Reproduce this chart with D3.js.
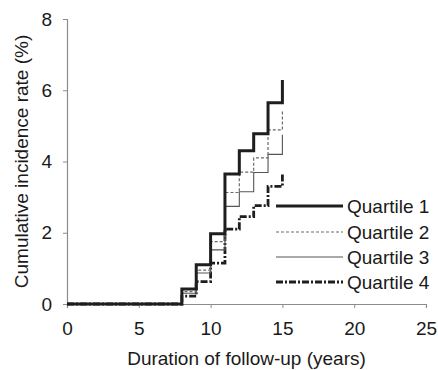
<!DOCTYPE html>
<html>
<head>
<meta charset="utf-8">
<script src="https://cdn.jsdelivr.net/npm/d3@7"></script>
<style>
body { margin: 0; background: #fff; }
svg text { font-family: Arial, "Liberation Sans", sans-serif; fill: #1a1a1a; }
</style>
</head>
<body>
<svg width="438" height="370"></svg>
<script>
var years = [0, 8, 9, 10, 11, 12, 13, 14, 15];
var quartile1 = [0, 0.42, 1.1, 1.97, 3.65, 4.3, 4.78, 5.65, 6.29];
var quartile2 = [0, 0.35, 0.95, 1.75, 3.13, 3.7, 4.1, 4.89, 5.43];
var quartile3 = [0, 0.3, 0.87, 1.52, 2.74, 3.15, 3.69, 4.2, 4.75];
var quartile4 = [0, 0.22, 0.63, 1.15, 2.1, 2.45, 2.76, 3.3, 3.67];
var seriesNames = ['Quartile 1', 'Quartile 2', 'Quartile 3', 'Quartile 4'];
var xTicks = [0, 5, 10, 15, 20, 25];
var yTicks = [0, 2, 4, 6, 8];

var svg = d3.select('svg');

var x = d3.scaleLinear().domain([0, 25]).range([67, 426]);
var y = d3.scaleLinear().domain([0, 8]).range([304, 19]);

// line styles per quartile
var styles = [
	{ color: '#1e1e1e', width: 3, dash: null },
	{ color: '#6a6a6a', width: 1.2, dash: '3,2' },
	{ color: '#555', width: 1.1, dash: null },
	{ color: '#1e1e1e', width: 2.8, dash: '7,2,2,2' }
];

// axes
var xAxis = svg.append('g')
	.attr('transform', 'translate(0,' + y(0) + ')')
	.call(d3.axisBottom(x).tickValues(xTicks).tickSize(4).tickPadding(14));
var yAxis = svg.append('g')
	.attr('transform', 'translate(' + x(0) + ',0)')
	.call(d3.axisLeft(y).tickValues(yTicks).tickSize(4).tickPadding(11));

[xAxis, yAxis].forEach(function(a) {
	a.select('.domain').attr('stroke', '#8c8c8c').attr('stroke-width', 1.2);
	a.selectAll('.tick line').attr('stroke', '#8c8c8c');
	a.selectAll('.tick text').style('font-size', '19px').attr('fill', '#1a1a1a');
});

svg.append('text')
	.attr('x', x(12.5))
	.attr('y', 365)
	.attr('text-anchor', 'middle')
	.style('font-size', '19px')
	.text('Duration of follow-up (years)');

svg.append('text')
	.attr('transform', 'translate(28,' + y(4) + ') rotate(-90)')
	.attr('text-anchor', 'middle')
	.style('font-size', '19px')
	.text('Cumulative incidence rate (%)');

// step curves
var line = d3.line()
	.x(function(d) { return x(d[0]); })
	.y(function(d) { return y(d[1]); })
	.curve(d3.curveStepAfter);

var allSeries = [quartile1, quartile2, quartile3, quartile4];
for (var i = allSeries.length - 1; i >= 0; --i) {
	var pts = years.map(function(yr, j) { return [yr, allSeries[i][j]]; });
	svg.append('path')
		.attr('d', line(pts))
		.attr('fill', 'none')
		.attr('stroke', styles[i].color)
		.attr('stroke-width', styles[i].width)
		.attr('stroke-dasharray', styles[i].dash);
}

// legend
var legendY = [206, 232, 257, 282];
seriesNames.forEach(function(name, i) {
	svg.append('line')
		.attr('x1', 276).attr('x2', 343)
		.attr('y1', legendY[i]).attr('y2', legendY[i])
		.attr('stroke', styles[i].color)
		.attr('stroke-width', styles[i].width)
		.attr('stroke-dasharray', styles[i].dash);
	svg.append('text')
		.attr('x', 347)
		.attr('y', legendY[i] + 7)
		.style('font-size', '19px')
		.text(name);
});
</script>
</body>
</html>
